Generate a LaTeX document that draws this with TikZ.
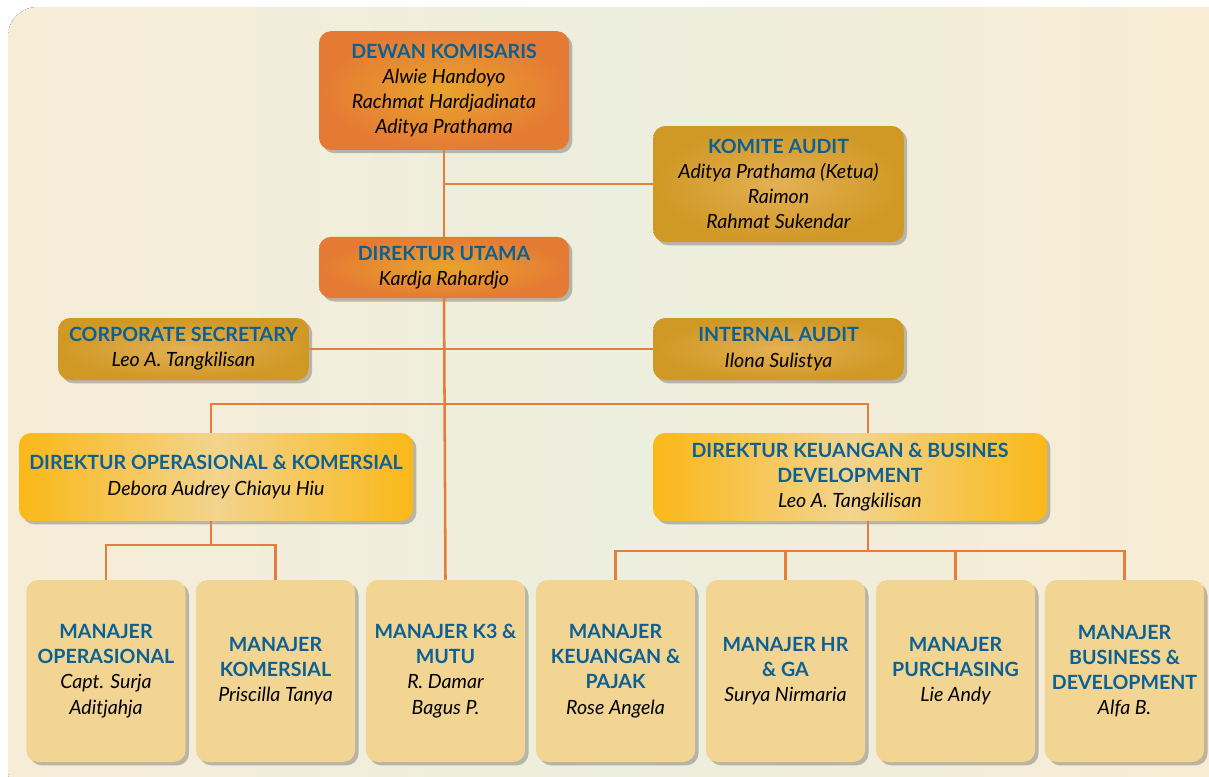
\documentclass[tikz,border=0pt]{standalone}
\usepackage{fontspec}
\setmainfont{Lato}
\usetikzlibrary{shadows}

\definecolor{judul}{RGB}{11,96,148}
\definecolor{garis}{RGB}{228,126,58}
\definecolor{latkiri}{RGB}{247,237,215}
\definecolor{lattengah}{RGB}{236,238,222}
\definecolor{latkanan}{RGB}{249,236,211}
\definecolor{oranyedalam}{RGB}{232,164,44}
\definecolor{oranyeluar}{RGB}{229,122,52}
\definecolor{emasdalam}{RGB}{228,176,84}
\definecolor{emasluar}{RGB}{208,152,36}
\definecolor{kuningtepi}{RGB}{250,184,24}
\definecolor{kuningtengah}{RGB}{243,212,142}
\definecolor{krem}{RGB}{242,212,147}

\newcommand{\jab}[1]{{\bfseries\color{judul}#1}}
\newcommand{\nm}[1]{{\itshape #1}}

\begin{document}
\begin{tikzpicture}[x=0.75pt,y=-0.75pt,
  kotak/.style={rounded corners=9pt, align=center, inner sep=2pt,
    font=\fontsize{14.7}{18.9}\selectfont,
    drop shadow={shadow xshift=2.5pt, shadow yshift=-2.5pt, opacity=.35, fill=black!70}},
  oranye/.style={kotak, inner color=oranyedalam, outer color=oranyeluar},
  emas/.style={kotak, inner color=emasdalam, outer color=emasluar},
  kuning/.style={kotak, left color=kuningtepi, right color=kuningtepi, middle color=kuningtengah,
    minimum width=295.5pt, minimum height=66pt},
  manajer/.style={kotak, fill=krem, minimum width=119.5pt, minimum height=136.5pt},
  link/.style={draw=garis, line width=1.9pt}]
\useasboundingbox (0,0) rectangle (1209,776);
\fill[left color=latkiri, right color=latkanan, middle color=lattengah, rounded corners=22pt]
  (8,7) rectangle (1240,800);

% dewan dan direksi
\node[oranye, minimum width=187.5pt, minimum height=89pt] (dewan) at (444,90.5)
  {\jab{DEWAN KOMISARIS}\\ \nm{Alwie Handoyo}\\ \nm{Rachmat Hardjadinata}\\ \nm{Aditya Prathama}};
\node[emas, minimum width=188pt, minimum height=87pt] (komite) at (778.5,184)
  {\jab{KOMITE AUDIT}\\ \nm{Aditya Prathama (Ketua)}\\ \nm{Raimon}\\ \nm{Rahmat Sukendar}};
\node[oranye, minimum width=187.5pt, minimum height=46pt] (utama) at (444,267.5)
  {\jab{DIREKTUR UTAMA}\\ \nm{Kardja Rahardjo}};
\node[emas, minimum width=188pt, minimum height=46.5pt] (sekretaris) at (183.5,349)
  {\jab{CORPORATE SECRETARY}\\ \nm{Leo A. Tangkilisan}};
\node[emas, minimum width=188pt, minimum height=46.5pt] (internal) at (778.5,349)
  {\jab{INTERNAL AUDIT}\\ \nm{Ilona Sulistya}};
\node[kuning] (dirop) at (216,477)
  {\jab{DIREKTUR OPERASIONAL \& KOMERSIAL}\\ \nm{Debora Audrey Chiayu Hiu}};
\node[kuning] (dirkeu) at (850,477)
  {\jab{DIREKTUR KEUANGAN \& BUSINES}\\ \jab{DEVELOPMENT}\\ \nm{Leo A. Tangkilisan}};

% manajer
\node[manajer] (mop) at (106,671)
  {\jab{MANAJER}\\ \jab{OPERASIONAL}\\ \nm{Capt. Surja}\\ \nm{Aditjahja}};
\node[manajer] (mkom) at (275.5,671)
  {\jab{MANAJER}\\ \jab{KOMERSIAL}\\ \nm{Priscilla Tanya}};
\node[manajer] (mk3) at (445.5,671)
  {\jab{MANAJER K3 \&}\\ \jab{MUTU}\\ \nm{R. Damar}\\ \nm{Bagus P.}};
\node[manajer] (mkeu) at (615.5,671)
  {\jab{MANAJER}\\ \jab{KEUANGAN \&}\\ \jab{PAJAK}\\ \nm{Rose Angela}};
\node[manajer] (mhr) at (785.5,671)
  {\jab{MANAJER HR}\\ \jab{\& GA}\\ \nm{Surya Nirmaria}};
\node[manajer] (mpur) at (955.5,671)
  {\jab{MANAJER}\\ \jab{PURCHASING}\\ \nm{Lie Andy}};
\node[manajer] (mbd) at (1124.5,671)
  {\jab{MANAJER}\\ \jab{BUSINESS \&}\\ \jab{DEVELOPMENT}\\ \nm{Alfa B.}};

% garis
\coordinate (bus) at (444,404);
\coordinate (keubus) at (868,404);
\coordinate (opbus) at (211,545);
\coordinate (keubawah) at (868,551);
\draw[link] (dewan) -- (utama);
\draw[link] (dewan.south |- komite.west) -- (komite.west);
\draw[link] (utama.south) -- (mk3.north);
\draw[link] (sekretaris.east) -- (internal.west);
\draw[link] (opbus |- dirop.north) |- (bus) -- (keubus) -- (keubus |- dirkeu.north);
\draw[link] (opbus |- dirop.south) -- (opbus);
\draw[link] (mop.north) |- (opbus) -| (mkom.north);
\draw[link] (keubawah |- dirkeu.south) -- (keubawah);
\draw[link] (mkeu.north) |- (keubawah) -| (mbd.north);
\draw[link] (mhr.north) -- (mhr.north |- keubawah);
\draw[link] (mpur.north) -- (mpur.north |- keubawah);
\end{tikzpicture}
\end{document}
